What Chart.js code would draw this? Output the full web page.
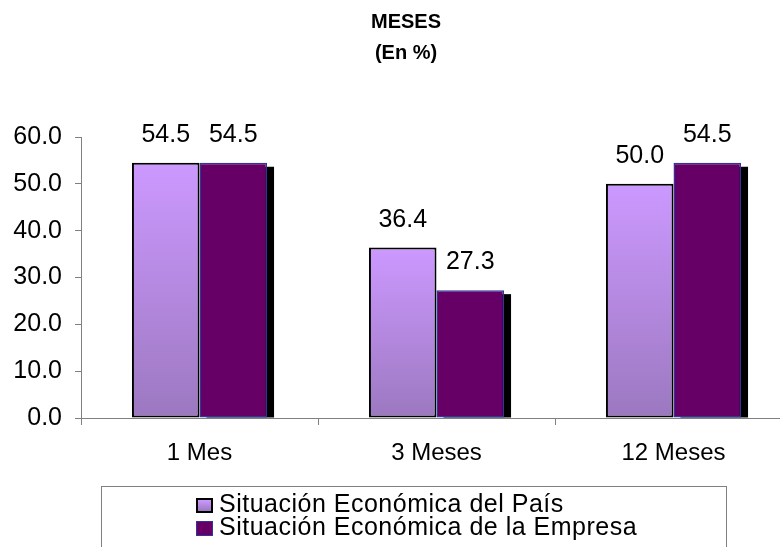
<!DOCTYPE html>
<html>
<head>
<meta charset="utf-8">
<script src="https://cdn.jsdelivr.net/npm/chart.js@4.4.1/dist/chart.umd.min.js"></script>
<style>
  html, body { margin:0; padding:0; background:#fff; overflow:hidden; width:780px; height:547px; }
  #wrap { position:absolute; left:0; top:0; width:820px; height:547px; }
  #title { position:absolute; left:256px; top:5.6px; width:300px; text-align:center;
           font:bold 20px "Liberation Sans", Arial, sans-serif; line-height:31px; color:#000; }
  #legend { position:absolute; left:101px; top:486px; width:626px; height:80px;
            border:1px solid #808080; box-sizing:border-box; }
  .sq { position:absolute; width:17px; height:15px; box-sizing:border-box; }
  .lt { position:absolute; font:25px "Liberation Sans", Arial, sans-serif; line-height:23px; color:#000;
        white-space:nowrap; letter-spacing:0.5px; }
</style>
</head>
<body>
<div id="wrap"><canvas id="c" width="820" height="547"></canvas></div>
<div id="title">MESES<br>(En %)</div>
<div id="legend"></div>
<script>
const categories = ["1 Mes", "3 Meses", "12 Meses"];
const seriesNames = ["Situación Económica del País", "Situación Económica de la Empresa"];
const paisValues = [54.5, 36.4, 50.0];
const empresaValues = [54.5, 27.3, 54.5];
const yTicks = [0, 10, 20, 30, 40, 50, 60];

const FONT = '"Liberation Sans", Arial, sans-serif';

function lightGradient(ctx) {
  const chart = ctx.chart;
  if (!chart.chartArea || ctx.parsed === undefined) return '#b88ae8';
  const ys = chart.scales.y;
  const top = ys.getPixelForValue(ctx.parsed.y);
  const bot = ys.getPixelForValue(0);
  const g = chart.ctx.createLinearGradient(0, top, 0, bot);
  g.addColorStop(0, '#cc99ff');
  g.addColorStop(1, '#9c78c0');
  return g;
}

const shadowPlugin = {
  id: 'shadow',
  beforeDatasetDraw(chart, args) {
    if (args.index !== 1) return;
    const c = chart.ctx;
    c.save();
    c.fillStyle = '#000';
    args.meta.data.forEach(el => {
      const left = el.x - el.width / 2 + 7;
      c.fillRect(left, el.y + 4, el.width, el.base - el.y - 4);
    });
    c.restore();
  }
};

const labelPlugin = {
  id: 'vlabels',
  afterDatasetsDraw(chart) {
    const c = chart.ctx;
    c.save();
    c.font = '25px ' + FONT;
    c.fillStyle = '#000';
    c.textAlign = 'center';
    c.textBaseline = 'alphabetic';
    chart.data.datasets.forEach((ds, i) => {
      chart.getDatasetMeta(i).data.forEach((el, j) => {
        c.fillText(ds.data[j].toFixed(1), el.x, el.y - 21);
      });
    });
    c.restore();
  }
};

new Chart(document.getElementById('c'), {
  type: 'bar',
  data: {
    labels: categories,
    datasets: [
      { label: seriesNames[0], data: paisValues, backgroundColor: lightGradient,
        borderColor: '#000', borderWidth: 2, borderSkipped: false },
      { label: seriesNames[1], data: empresaValues, backgroundColor: '#660066',
        borderColor: '#333399', borderWidth: 1.5, borderSkipped: false }
    ]
  },
  options: {
    responsive: false,
    animation: false,
    events: [],
    categoryPercentage: 0.57,
    barPercentage: 1.0,
    layout: { padding: { top: 137, right: 28, left: 0, bottom: 0 } },
    plugins: { legend: { display: false }, title: { display: false }, tooltip: { enabled: false } },
    scales: {
      x: {
        offset: true,
        grid: { drawOnChartArea: false, offset: true, tickLength: 7, color: '#808080', lineWidth: 1 },
        border: { color: '#808080', width: 1 },
        ticks: { font: { family: FONT, size: 24 }, color: '#000', padding: 14, maxRotation: 0 },
        afterFit(s) { s.height = 129; }
      },
      y: {
        min: 0, max: 60,
        afterBuildTicks(s) { s.ticks = yTicks.map(v => ({ value: v })); },
        grid: { drawOnChartArea: false, tickLength: 6, color: '#808080', lineWidth: 1 },
        border: { color: '#808080', width: 1 },
        ticks: { font: { family: FONT, size: 25 }, color: '#000', padding: 13,
                 callback: v => Number(v).toFixed(1) },
        afterFit(s) { s.width = 81; }
      }
    }
  },
  plugins: [shadowPlugin, labelPlugin]
});

// HTML legend built from the series names
const leg = document.getElementById('legend');
const sqStyles = [
  'background:linear-gradient(#cc99ff,#9c78c0);border:2px solid #000;',
  'background:#660066;border:1.5px solid #333399;'
];
seriesNames.forEach((name, i) => {
  const sq = document.createElement('div');
  sq.className = 'sq';
  sq.style.cssText = sqStyles[i] + 'left:94px;top:' + (11 + i * 23) + 'px;';
  leg.appendChild(sq);
  const t = document.createElement('div');
  t.className = 'lt';
  t.style.left = '117px';
  t.style.top = (5 + i * 23.3) + 'px';
  t.textContent = name;
  leg.appendChild(t);
});
</script>
</body>
</html>
